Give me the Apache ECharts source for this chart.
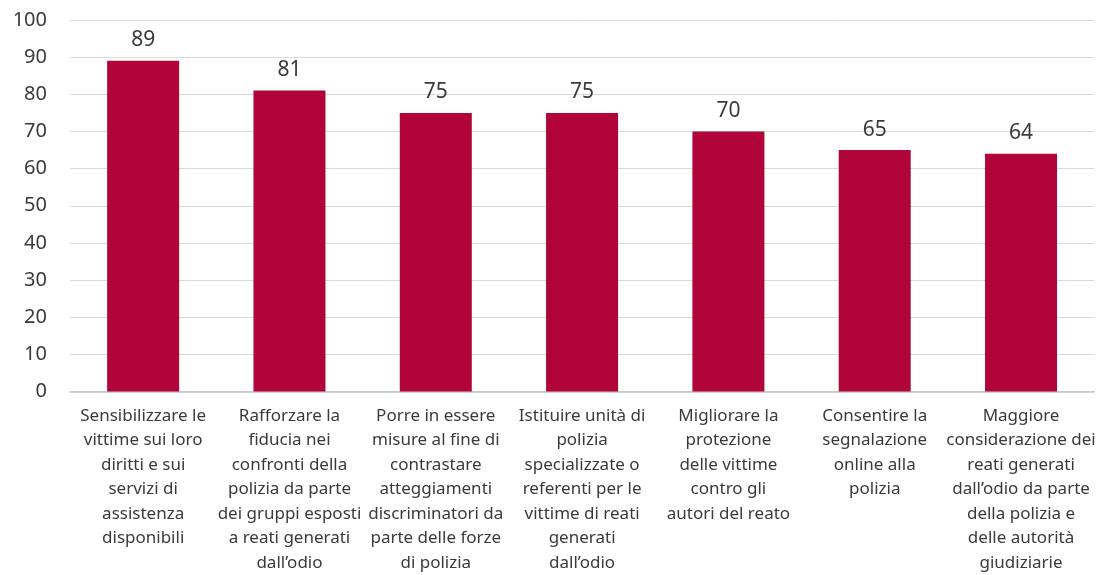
<!DOCTYPE html>
<html>
<head>
<meta charset="utf-8">
<script src="https://cdn.jsdelivr.net/npm/echarts@6/dist/echarts.min.js"></script>
<style>
    html, body { margin: 0; padding: 0; background: #fff; }
    #chart { width: 1098px; height: 575px; }
</style>
</head>
<body>
<div id="chart"></div>
<script>
// categorie (a capo come nell'originale)
const categories = [
    'Sensibilizzare le\nvittime sui loro\ndiritti e sui\nservizi di\nassistenza\ndisponibili',
    'Rafforzare la\nfiducia nei\nconfronti della\npolizia da parte\ndei gruppi esposti\na reati generati\ndall\u2019odio',
    'Porre in essere\nmisure al fine di\ncontrastare\natteggiamenti\ndiscriminatori da\nparte delle forze\ndi polizia',
    'Istituire unit\u00e0 di\npolizia\nspecializzate o\nreferenti per le\nvittime di reati\ngenerati\ndall\u2019odio',
    'Migliorare la\nprotezione\ndelle vittime\ncontro gli\nautori del reato',
    'Consentire la\nsegnalazione\nonline alla\npolizia',
    'Maggiore\nconsiderazione dei\nreati generati\ndall\u2019odio da parte\ndella polizia e\ndelle autorit\u00e0\ngiudiziarie'
];
const values = [89, 81, 75, 75, 70, 65, 64]; // percentuali

const chart = echarts.init(document.getElementById('chart'));

const option = {
    animation: false,
    textStyle: { fontFamily: 'Noto Sans' },
    grid: {
        left: 70,
        right: -6,
        top: 20,
        bottom: 182
    },
    xAxis: {
        type: 'category',
        data: categories,
        axisTick: { show: false },
        axisLine: { lineStyle: { color: '#c4c4c4', width: 1.5 } },
        axisLabel: {
            interval: 0,
            color: '#3a3a3a',
            fontSize: 17,
            lineHeight: 24.5,
            margin: 12,
            verticalAlign: 'top'
        }
    },
    yAxis: {
        type: 'value',
        min: 0,
        max: 100,
        interval: 10,
        axisLine: { show: false },
        axisTick: { show: false },
        splitLine: { lineStyle: { color: '#d9d9d9', width: 1 } },
        axisLabel: {
            color: '#3a3a3a',
            fontSize: 20,
            margin: 23
        }
    },
    series: [
        {
            type: 'bar',
            data: values,
            barWidth: 72,
            itemStyle: { color: '#b10539' },
            label: {
                show: true,
                position: 'top',
                distance: 10,
                color: '#3a3a3a',
                fontSize: 21
            }
        }
    ]
};

chart.setOption(option);
</script>
</body>
</html>
